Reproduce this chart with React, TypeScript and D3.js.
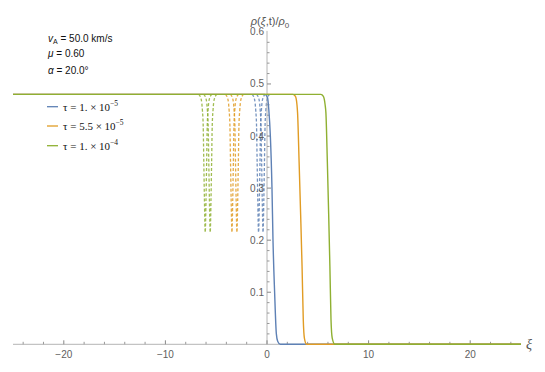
import * as d3 from 'd3';

// plot ranges / ticks
const xDomain = [-25, 25];
const yDomain = [0, 0.6];
const xMajor = [-20, -10, 0, 10, 20];
const xMinor = [-24, -22, -18, -16, -14, -12, -8, -6, -4, -2, 2, 4, 6, 8, 12, 14, 16, 18, 22, 24];
const yMajor = [0.1, 0.2, 0.3, 0.4, 0.5, 0.6];

// solid profiles
const blueXi = [-25, -0.2, 0.05, 0.18, 0.33, 0.49, 0.59, 0.75, 0.92, 1.05, 1.31, 25];
const blueRho = [0.48, 0.48, 0.474, 0.45, 0.4, 0.3, 0.2, 0.1, 0.02, 0.006, 0, 0];
const orangeXi = [-25, 2.55, 2.8, 2.95, 3.01, 3.16, 3.31, 3.45, 3.57, 3.68, 3.9, 25];
const orangeRho = [0.48, 0.48, 0.476, 0.46, 0.444, 0.35, 0.25, 0.15, 0.047, 0.012, 0, 0];
const greenXi = [-25, 5.3, 5.55, 5.72, 5.8, 5.94, 6.07, 6.19, 6.3, 6.42, 6.68, 25];
const greenRho = [0.48, 0.48, 0.476, 0.46, 0.444, 0.35, 0.25, 0.15, 0.047, 0.012, 0, 0];

// dashed dips: traced shape of one dip, and where each dip sits
const dipOffset = [-0.64, -0.39, -0.28, -0.2, -0.14, -0.08, 0, 0.08, 0.14, 0.2, 0.28, 0.39, 0.64];
const dipRho = [0.48, 0.47, 0.45, 0.42, 0.35, 0.28, 0.215, 0.28, 0.35, 0.42, 0.45, 0.47, 0.48];
const blueDips = [-0.83, -0.39];
const orangeDips = [-3.45, -2.96];
const greenDips = [-6.08, -5.59];

const infoLines = ['= 50.0 km/s', '= 0.60', '= 20.0°'];
const tauMant = ['1.', '5.5', '1.'];
const tauExp = ['−5', '−5', '−4'];

const colors = ['#5E81B5', '#E19C24', '#8FB032'];

export default function App() {
  const x = d3.scaleLinear().domain(xDomain).range([13, 521]);
  const y = d3.scaleLinear().domain(yDomain).range([344.3, 31.9]);

  const line = d3
    .line<[number, number]>()
    .x((d) => x(d[0]))
    .y((d) => y(d[1]))
    .curve(d3.curveMonotoneX);

  const solids = [
    [blueXi, blueRho],
    [orangeXi, orangeRho],
    [greenXi, greenRho],
  ].map(([xs, ys]) => line(xs.map((v, i) => [v, ys[i]] as [number, number])));

  const dashed = [blueDips, orangeDips, greenDips].map((centers) =>
    centers.map((c) => line(dipOffset.map((o, i) => [c + o, dipRho[i]] as [number, number])))
  );

  const axisCol = '#b4b4b4';
  const tickFont = { fontFamily: 'Liberation Sans, Arial, sans-serif', fontSize: 10, fill: '#606060' };
  const x0 = x(0);
  const yBase = y(0);

  return (
    <svg width={545} height={372} style={{ position: 'absolute', left: 0, top: 0, background: '#fff' }}>
      {/* dashed dips */}
      {dashed.map((ps, k) =>
        ps.map((p, j) => (
          <path key={`d${k}${j}`} d={p || ''} fill="none" stroke={colors[k]} strokeWidth={1.3} strokeDasharray="3,2" opacity={0.85} />
        ))
      )}

      {/* axes */}
      <line x1={13} x2={521} y1={yBase} y2={yBase} stroke={axisCol} strokeWidth={1} />
      <line x1={x0} x2={x0} y1={yBase} y2={y(0.6) - 1} stroke={axisCol} strokeWidth={1} />
      {xMajor.map((t) => (
        <g key={`xm${t}`}>
          <line x1={x(t)} x2={x(t)} y1={yBase} y2={yBase - 4} stroke="#888" />
          <text x={x(t)} y={yBase + 14} textAnchor="middle" {...tickFont}>
            {t < 0 ? `−${-t}` : t}
          </text>
        </g>
      ))}
      {xMinor.map((t) => (
        <line key={`xn${t}`} x1={x(t)} x2={x(t)} y1={yBase} y2={yBase - 2.5} stroke="#999" />
      ))}
      {d3.range(1, 30).map((i) => {
        const v = i * 0.02;
        const major = i % 5 === 0;
        return <line key={`yt${i}`} x1={x0} x2={x0 + (major ? 4 : 2.5)} y1={y(v)} y2={y(v)} stroke={major ? '#888' : '#999'} />;
      })}
      {yMajor.map((t) => (
        <text key={`yl${t}`} x={x0 - 3} y={y(t) + 3.5} textAnchor="end" {...tickFont}>
          {t.toFixed(1)}
        </text>
      ))}

      {/* solid lines */}
      {solids.map((p, k) => (
        <path key={`s${k}`} d={p || ''} fill="none" stroke={colors[k]} strokeWidth={1.4} />
      ))}

      {/* axis labels */}
      <text x={270} y={25} textAnchor="middle" fontFamily="Liberation Sans, Arial, sans-serif" fontSize={11} fill="#555">
        <tspan fontStyle="italic">ρ</tspan>(<tspan fontStyle="italic">ξ</tspan>,t)/<tspan fontStyle="italic">ρ</tspan>
        <tspan fontSize={8} dy={3}>0</tspan>
      </text>
      <text x={526} y={349} fontFamily="Liberation Serif, serif" fontStyle="italic" fontSize={14} fill="#555">
        ξ
      </text>

      {/* parameters */}
      <g fontFamily="Liberation Sans, Arial, sans-serif" fontSize={10} fill="#111">
        <text x={48} y={42}>
          <tspan fontStyle="italic">v</tspan>
          <tspan fontSize={7} dy={2}>A</tspan>
          <tspan dy={-2}> {infoLines[0]}</tspan>
        </text>
        <text x={48} y={57}>
          <tspan fontStyle="italic">μ</tspan> {infoLines[1]}
        </text>
        <text x={48} y={74}>
          <tspan fontStyle="italic">α</tspan> {infoLines[2]}
        </text>
      </g>

      {/* legend */}
      {[106.7, 126, 145.7].map((ly, k) => (
        <g key={`lg${k}`}>
          <line x1={47} x2={58} y1={ly} y2={ly} stroke={colors[k]} strokeWidth={1.3} />
          <text x={63} y={ly + 4} fontFamily="Liberation Serif, serif" fontSize={11} fill="#111">
            τ = {tauMant[k]} × 10
            <tspan fontSize={7.5} dy={-5}>{tauExp[k]}</tspan>
          </text>
        </g>
      ))}
    </svg>
  );
}
